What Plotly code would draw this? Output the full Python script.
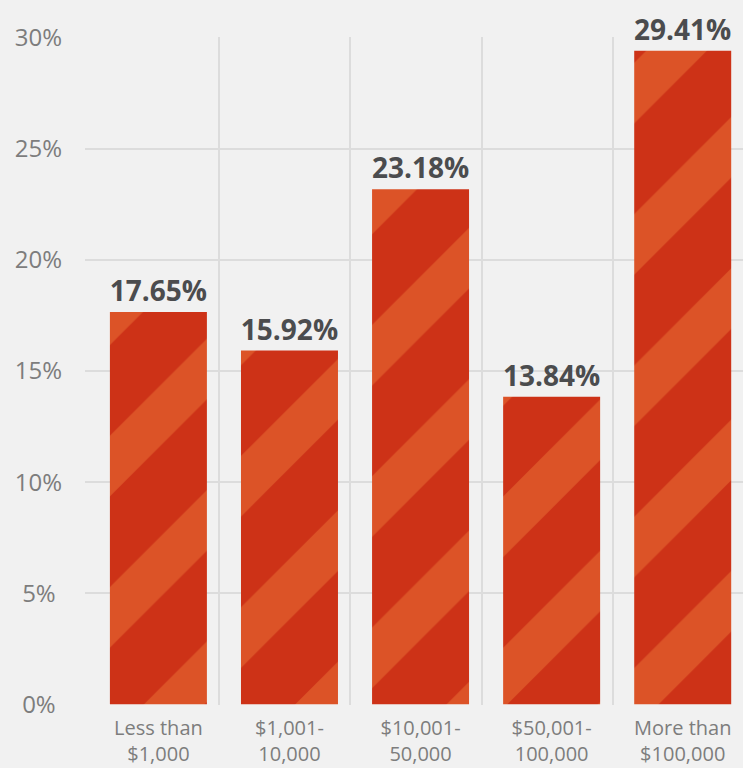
import plotly.graph_objects as go

# Share of respondents by amount
categories = [
    "Less than<br>$1,000",
    "$1,001-<br>10,000",
    "$10,001-<br>50,000",
    "$50,001-<br>100,000",
    "More than<br>$100,000",
]
shares = [17.65, 15.92, 23.18, 13.84, 29.41]
positions = [0, 1, 2, 3, 4]
y_ticks = [0, 5, 10, 15, 20, 25, 30]
y_labels = [f"{v}%" if v >= 10 else f"{v}%\u2008" for v in y_ticks]

BG = "#f1f1f1"
GRID = "#dcdcdc"
RED = "#cd3217"
ORANGE = "#dc5327"

fig = go.Figure()
fig.add_trace(go.Bar(
    x=positions, y=shares, width=0.74,
    marker=dict(
        color=RED, line=dict(width=0),
        pattern=dict(shape="/", fgcolor=ORANGE, bgcolor=RED,
                     size=107, solidity=0.4, fillmode="replace"),
    ),
    text=[f"{v:.2f}%" for v in shares], textposition="outside",
    textfont=dict(family="Open Sans", size=28, color="#4b4c4e", weight="bold"),
    constraintext="none", cliponaxis=False, hoverinfo="skip",
))

fig.update_layout(
    width=743, height=768,
    margin=dict(l=85, r=0, t=37, b=63),
    paper_bgcolor=BG, plot_bgcolor=BG,
    showlegend=False, bargap=0.26,
    font=dict(family="Open Sans", color="#7d7d7d"),
)
fig.update_xaxes(
    range=[-0.56, 4.46], tickvals=positions, ticktext=categories,
    showgrid=False, zeroline=False, showline=False, ticks="",
    ticklabelstandoff=9, automargin=False,
    tickfont=dict(size=20, color="#7d7d7d"),
    minor=dict(tickvals=[-0.553, 0.461, 1.46, 2.467, 3.47],
               showgrid=True, gridcolor=GRID, gridwidth=2, ticks=""),
)
fig.update_yaxes(
    range=[-0.03, 30.03], tickvals=y_ticks, ticktext=y_labels,
    showgrid=True, gridcolor=GRID, gridwidth=2, zeroline=False,
    showline=False, ticks="", ticklabelstandoff=22, automargin=False,
    tickfont=dict(size=24, color="#7d7d7d"),
)

fig.write_html(
    "out.html",
    config={"displayModeBar": False},
    post_script="document.body.style.margin='0';"
                "document.body.style.background='#f1f1f1';"
                "document.body.style.overflow='hidden';",
)
